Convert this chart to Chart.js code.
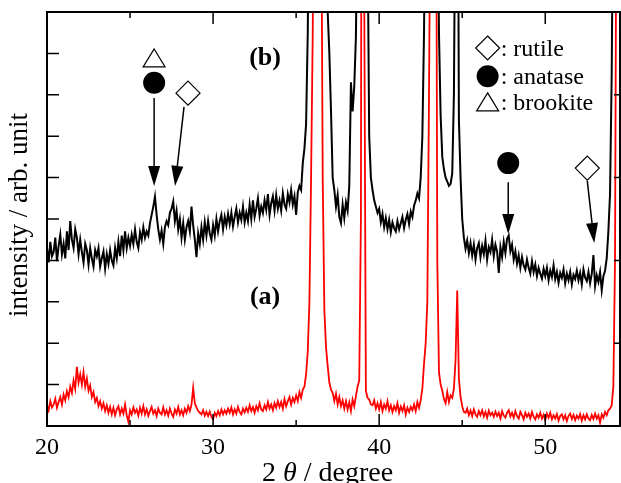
<!DOCTYPE html>
<html>
<head>
<meta charset="utf-8">
<script src="https://cdn.jsdelivr.net/npm/chart.js@4/dist/chart.umd.min.js"></script>
<style>
  html, body { margin: 0; padding: 0; background: #fff; }
</style>
</head>
<body>
<canvas id="myChart" width="621" height="483"></canvas>
<script>
// 2theta grid of the scan (start + step), intensities
const thetaStart = 20.0;
const thetaStep = 0.1;

// (a) red trace
const intensityA = [
  0.50, 0.38, 0.60, 0.45, 0.52, 0.66, 0.44, 0.58, 0.70, 0.52,
  0.76, 0.62, 0.84, 0.70, 0.95, 0.80, 1.10, 0.90, 1.43, 1.05,
  1.25, 1.00, 1.30, 0.95, 1.15, 0.85, 0.98, 0.70, 0.82, 0.58,
  0.68, 0.48, 0.60, 0.42, 0.55, 0.36, 0.50, 0.32, 0.46, 0.28,
  0.44, 0.26, 0.40, 0.48, 0.28, 0.42, 0.30, 0.52, 0.26, 0.10,
  0.38, 0.28, 0.45, 0.32, 0.40, 0.25, 0.44, 0.30, 0.48, 0.28,
  0.40, 0.25, 0.36, 0.46, 0.30, 0.38, 0.24, 0.42, 0.32, 0.28,
  0.45, 0.28, 0.38, 0.25, 0.42, 0.30, 0.22, 0.40, 0.30, 0.46,
  0.28, 0.38, 0.26, 0.42, 0.32, 0.48, 0.36, 0.52, 0.92, 0.55,
  0.45, 0.36, 0.32, 0.28, 0.38, 0.25, 0.34, 0.24, 0.35, 0.22,
  0.16, 0.32, 0.24, 0.36, 0.26, 0.40, 0.28, 0.38, 0.30, 0.42,
  0.32, 0.45, 0.28, 0.40, 0.30, 0.46, 0.34, 0.28, 0.42, 0.33,
  0.44, 0.34, 0.50, 0.36, 0.46, 0.32, 0.48, 0.38, 0.55, 0.40,
  0.36, 0.50, 0.40, 0.58, 0.42, 0.52, 0.38, 0.55, 0.44, 0.60,
  0.46, 0.58, 0.42, 0.65, 0.48, 0.60, 0.70, 0.52, 0.68, 0.58,
  0.74, 0.60, 0.82, 0.68, 0.88, 0.95, 1.25, 1.80, 3.00, 6.00,
  9.5, 18, 28, 32, 26, 14, 6.0, 2.8, 1.9, 1.45,
  1.05, 0.88, 0.80, 0.60, 0.78, 0.52, 0.70, 0.48, 0.62, 0.42,
  0.60, 0.40, 0.57, 0.36, 0.64, 0.48, 0.72, 0.95, 1.10, 5.0,
  30, 10.5, 0.85, 0.68, 0.64, 0.52, 0.50, 0.62, 0.42, 0.55,
  0.40, 0.58, 0.36, 0.52, 0.42, 0.60, 0.38, 0.50, 0.34, 0.48,
  0.38, 0.55, 0.32, 0.47, 0.36, 0.50, 0.28, 0.44, 0.34, 0.46,
  0.38, 0.52, 0.36, 0.58, 0.44, 0.62, 0.90, 1.50, 2.00, 3.00,
  8.0, 14, 28, 30, 18, 4.0, 1.3, 1.0, 0.85, 0.65,
  0.55, 0.82, 0.58, 0.74, 0.68, 0.90, 1.60, 3.27, 1.15, 0.70,
  0.48, 0.34, 0.32, 0.42, 0.26, 0.37, 0.24, 0.40, 0.28, 0.22,
  0.36, 0.26, 0.38, 0.23, 0.34, 0.20, 0.37, 0.26, 0.32, 0.22,
  0.35, 0.24, 0.32, 0.18, 0.36, 0.25, 0.20, 0.32, 0.38, 0.23,
  0.32, 0.20, 0.36, 0.24, 0.18, 0.34, 0.26, 0.16, 0.32, 0.22,
  0.30, 0.18, 0.34, 0.22, 0.16, 0.28, 0.20, 0.32, 0.18, 0.27,
  0.14, 0.30, 0.20, 0.32, 0.16, 0.26, 0.18, 0.29, 0.13, 0.24,
  0.28, 0.16, 0.26, 0.12, 0.24, 0.30, 0.17, 0.27, 0.14, 0.25,
  0.18, 0.29, 0.13, 0.26, 0.16, 0.28, 0.18, 0.14, 0.27, 0.17,
  0.30, 0.18, 0.26, 0.08, 0.28, 0.20, 0.34, 0.26, 0.38, 0.42,
  0.50, 0.95, 4.0, 15, 28, 30, 28
];

// (b) black trace
const intensityB = [
  4.30, 3.95, 4.45, 4.10, 4.20, 4.55, 3.98, 4.35, 4.62, 4.15,
  4.40, 4.05, 4.70, 4.25, 4.95, 4.50, 4.30, 4.75, 4.55, 4.15,
  4.50, 4.20, 3.95, 4.40, 4.25, 3.90, 4.30, 4.05, 3.85, 4.25,
  4.10, 4.30, 3.85, 4.05, 4.22, 3.80, 4.15, 3.92, 4.25, 4.00,
  3.88, 4.30, 4.05, 4.45, 4.10, 4.60, 4.25, 4.70, 4.30, 4.55,
  4.35, 4.62, 4.40, 4.75, 4.45, 4.30, 4.68, 4.50, 4.80, 4.55,
  4.70, 4.60, 4.90, 5.10, 5.30, 5.54, 5.10, 4.75, 4.50, 4.72,
  4.40, 4.80, 4.95, 4.85, 5.15, 5.25, 5.42, 4.95, 5.20, 4.75,
  5.00, 4.55, 4.90, 4.50, 4.80, 4.95, 4.70, 5.30, 4.85, 4.50,
  4.08, 4.65, 4.40, 4.80, 4.50, 4.92, 4.60, 4.95, 4.65, 4.50,
  4.85, 4.60, 5.00, 4.70, 4.95, 5.10, 4.75, 5.05, 4.85, 5.12,
  4.88, 5.15, 4.82, 5.05, 5.25, 4.92, 5.15, 4.98, 5.30, 4.92,
  5.15, 4.95, 5.35, 5.00, 5.45, 5.05, 5.25, 5.50, 5.08, 5.30,
  5.15, 5.45, 5.22, 5.60, 5.10, 5.38, 5.55, 5.20, 5.58, 5.25,
  5.45, 5.20, 5.62, 5.35, 5.25, 5.60, 5.40, 5.70, 5.35, 5.55,
  5.10, 5.65, 5.80, 5.70, 6.35, 6.70, 7.30, 9.50, 14, 22,
  30, 40, 45, 40, 32, 24, 18, 14, 11, 10,
  9.0, 7.6, 6.0, 5.70, 5.30, 5.58, 5.05, 4.90, 5.35, 5.02,
  5.40, 5.20, 5.80, 8.30, 7.60, 8.20, 9.40, 13, 18, 28,
  40, 45, 30, 12, 7.0, 6.0, 5.70, 5.45, 5.30, 5.15,
  5.25, 4.92, 5.12, 4.80, 5.02, 4.75, 4.98, 4.68, 4.92, 4.78,
  4.70, 4.95, 4.75, 4.90, 5.05, 4.78, 4.98, 5.12, 4.88, 5.18,
  5.05, 5.32, 5.45, 5.62, 5.50, 6.00, 7.00, 9.50, 14, 22,
  32, 40, 45, 42, 30, 14, 9.5, 7.5, 6.5, 6.2,
  6.00, 5.90, 5.80, 5.85, 6.10, 8.00, 14, 18, 7.4, 6.0,
  5.00, 4.55, 4.28, 4.48, 4.18, 4.42, 4.12, 4.38, 4.02, 4.30,
  4.42, 4.08, 4.35, 4.15, 4.48, 4.02, 4.32, 4.20, 4.50, 4.10,
  4.38, 4.22, 3.70, 4.32, 4.08, 4.45, 4.18, 4.52, 4.60, 4.22,
  4.38, 4.02, 4.22, 3.92, 4.12, 3.82, 4.08, 3.88, 3.78, 4.02,
  3.82, 3.68, 3.98, 3.72, 3.90, 3.62, 3.82, 3.68, 3.56, 3.80,
  3.62, 3.82, 3.52, 3.75, 3.60, 3.88, 3.55, 3.72, 3.46, 3.70,
  3.58, 3.78, 3.45, 3.68, 3.52, 3.72, 3.42, 3.65, 3.55, 3.75,
  3.52, 3.70, 3.42, 3.78, 3.58, 3.50, 3.72, 3.45, 3.68, 4.13,
  3.38, 3.64, 3.48, 3.72, 3.28, 3.62, 3.75, 4.05, 4.70, 5.60,
  8.5, 14, 24, 35, 40, 38, 30
];

const xLabelTicks = [20, 30, 40, 50];
const xMarkTicks = [20, 25, 30, 35, 40, 45, 50];
const yMarkTicks = [1, 2, 3, 4, 5, 6, 7, 8, 9];

// phase markers (data units) and arrows pointing at the peaks
const phaseMarks = [
  ['triangle', 26.45, 8.89],
  ['circle', 26.45, 8.29],
  ['diamond', 28.49, 8.04],
  ['circle', 47.77, 6.35],
  ['diamond', 52.53, 6.23]
];
const arrows = [
  [26.45, 7.92, 26.45, 5.80],
  [28.25, 7.71, 27.71, 5.80],
  [47.77, 5.89, 47.77, 4.64],
  [52.53, 5.92, 52.95, 4.42]
];
const legendRows = [
  ['diamond', ': rutile', 9.13],
  ['circle', ': anatase', 8.45],
  ['triangle', ': brookite', 7.83]
];
const legendX = 46.53;
const sampleLabels = [['(b)', 33.13, 8.89], ['(a)', 33.13, 3.12]];

const serif = "'Liberation Serif', 'Times New Roman', serif";

function pts(vals) {
  return vals.map((v, i) => ({x: thetaStart + i * thetaStep, y: v}));
}

function drawShape(ctx, shape, cx, cy) {
  ctx.beginPath();
  if (shape === 'circle') {
    ctx.arc(cx, cy, 11, 0, Math.PI * 2);
    ctx.fill();
  } else if (shape === 'diamond') {
    ctx.moveTo(cx, cy - 12);
    ctx.lineTo(cx + 12, cy);
    ctx.lineTo(cx, cy + 12);
    ctx.lineTo(cx - 12, cy);
    ctx.closePath();
    ctx.stroke();
  } else {
    ctx.moveTo(cx, cy - 9);
    ctx.lineTo(cx + 11, cy + 9);
    ctx.lineTo(cx - 11, cy + 9);
    ctx.closePath();
    ctx.stroke();
  }
}

const decor = {
  id: 'decor',
  afterDatasetsDraw(chart) {
    const {ctx, chartArea: a, scales: {x, y}} = chart;
    ctx.save();
    ctx.strokeStyle = '#000';
    ctx.fillStyle = '#000';

    // frame + inward ticks
    ctx.lineWidth = 2;
    ctx.strokeRect(a.left, a.top, a.right - a.left, a.bottom - a.top);
    ctx.lineWidth = 1.5;
    ctx.beginPath();
    xMarkTicks.forEach(v => {
      const px = x.getPixelForValue(v);
      const len = v % 10 === 0 ? 12 : 6;
      ctx.moveTo(px, a.bottom); ctx.lineTo(px, a.bottom - len);
      ctx.moveTo(px, a.top); ctx.lineTo(px, a.top + len);
    });
    yMarkTicks.forEach(v => {
      const py = y.getPixelForValue(v);
      ctx.moveTo(a.left, py); ctx.lineTo(a.left + 12, py);
      if (v % 2 === 0) { ctx.moveTo(a.right, py); ctx.lineTo(a.right - 6, py); }
    });
    ctx.stroke();

    // arrows
    ctx.lineWidth = 1.5;
    arrows.forEach(([x1, y1, x2, y2]) => {
      const p1 = [x.getPixelForValue(x1), y.getPixelForValue(y1)];
      const p2 = [x.getPixelForValue(x2), y.getPixelForValue(y2)];
      const ang = Math.atan2(p2[1] - p1[1], p2[0] - p1[0]);
      const hl = 20, hw = 6;
      const bx = p2[0] - hl * Math.cos(ang), by = p2[1] - hl * Math.sin(ang);
      ctx.beginPath();
      ctx.moveTo(p1[0], p1[1]); ctx.lineTo(bx, by);
      ctx.stroke();
      ctx.beginPath();
      ctx.moveTo(p2[0], p2[1]);
      ctx.lineTo(bx + hw * Math.sin(ang), by - hw * Math.cos(ang));
      ctx.lineTo(bx - hw * Math.sin(ang), by + hw * Math.cos(ang));
      ctx.closePath();
      ctx.fill();
    });

    // markers
    ctx.lineWidth = 1.2;
    phaseMarks.forEach(([s, mx, my]) => drawShape(ctx, s, x.getPixelForValue(mx), y.getPixelForValue(my)));

    // legend
    ctx.font = '24px ' + serif;
    ctx.textAlign = 'left';
    ctx.textBaseline = 'alphabetic';
    legendRows.forEach(([s, label, ly]) => {
      const cx = x.getPixelForValue(legendX), cy = y.getPixelForValue(ly);
      drawShape(ctx, s, cx, cy);
      ctx.fillText(label, cx + 13, cy + 8);
    });

    // sample labels
    ctx.font = 'bold 26px ' + serif;
    ctx.textAlign = 'center';
    ctx.textBaseline = 'middle';
    sampleLabels.forEach(([t, lx, ly]) => ctx.fillText(t, x.getPixelForValue(lx), y.getPixelForValue(ly)));

    // axis titles
    ctx.textBaseline = 'alphabetic';
    ctx.textAlign = 'left';
    const parts = [['2 ', ''], ['θ', 'italic '], [' / degree', '']];
    let w = 0;
    parts.forEach(([t, st]) => { ctx.font = st + '28px ' + serif; w += ctx.measureText(t).width; });
    let tx = 327.5 - w / 2;
    parts.forEach(([t, st]) => {
      ctx.font = st + '28px ' + serif;
      ctx.fillText(t, tx, 480.5);
      tx += ctx.measureText(t).width;
    });
    ctx.font = '27px ' + serif;
    ctx.textAlign = 'center';
    ctx.translate(27, 215);
    ctx.rotate(-Math.PI / 2);
    ctx.fillText('intensity / arb. unit', 0, 0);
    ctx.restore();
  }
};

const ctx = document.getElementById('myChart');
const myChart = new Chart(ctx, {
  type: 'line',
  data: {
    datasets: [
      {label: '(a)', data: pts(intensityA), borderColor: '#ff0000', borderWidth: 1.8},
      {label: '(b)', data: pts(intensityB), borderColor: '#000000', borderWidth: 2}
    ]
  },
  options: {
    responsive: false,
    animation: false,
    elements: {point: {radius: 0}, line: {tension: 0}},
    layout: {padding: {top: 12, right: 1, left: 0, bottom: 0}},
    plugins: {legend: {display: false}, tooltip: {enabled: false}},
    scales: {
      x: {
        type: 'linear',
        min: 20, max: 54.5,
        afterFit: s => { s.height = 57; },
        afterBuildTicks: s => { s.ticks = xLabelTicks.map(v => ({value: v})); },
        grid: {display: false, drawTicks: false},
        border: {display: false},
        ticks: {color: '#000', padding: 7, maxRotation: 0, font: {family: serif, size: 24}}
      },
      y: {
        min: 0, max: 10,
        afterFit: s => { s.width = 47; },
        grid: {display: false, drawTicks: false},
        border: {display: false},
        ticks: {display: false}
      }
    }
  },
  plugins: [decor]
});
</script>
</body>
</html>
